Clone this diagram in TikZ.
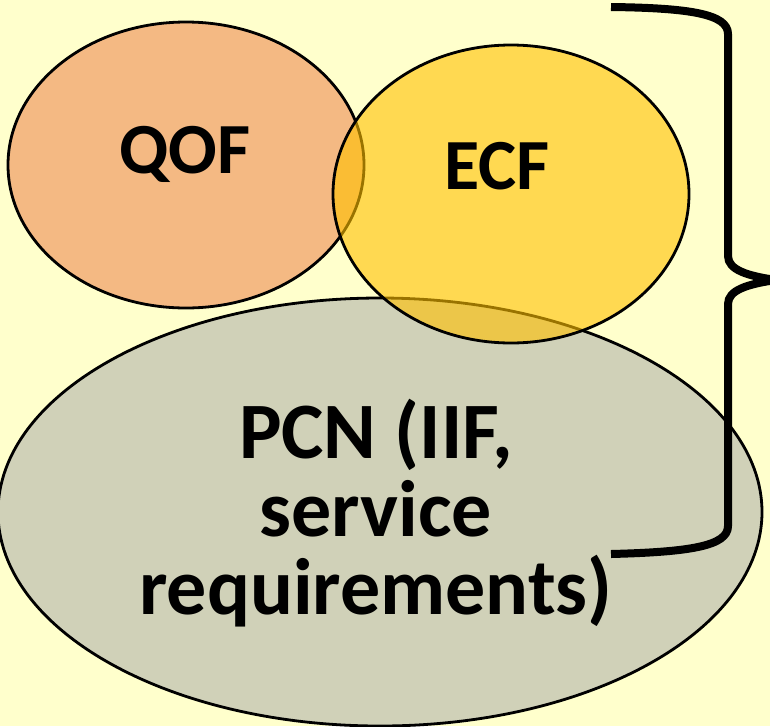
\documentclass[tikz,border=0pt]{standalone}
\usepackage{fontspec}
\setmainfont{Carlito}
\begin{document}
\begin{tikzpicture}[x=1pt,y=-1pt,
  bubble/.style={draw=black,line width=2.8pt},
  lbl/.style={font=\bfseries\fontsize{72}{80}\selectfont,inner sep=0pt},
  biglbl/.style={font=\bfseries\fontsize{80}{78}\selectfont,inner sep=0pt,align=center},
  bracestroke/.style={line width=8pt,line cap=butt,line join=round}]
  \definecolor{paper}{RGB}{255,255,204}
  \definecolor{qofcol}{RGB}{244,185,131}
  \definecolor{ecfcol}{RGB}{255,192,0}
  \definecolor{pcncol}{RGB}{208,209,184}
  \useasboundingbox (0,0) rectangle (770,726);
  \clip (0,0) rectangle (770,726);
  \fill[paper] (0,0) rectangle (770,726);

  % three overlapping sets
  \draw[bubble,fill=qofcol] (186,165) ellipse [x radius=178,y radius=143];
  \draw[bubble,fill=pcncol] (380,512) ellipse [x radius=382,y radius=214];
  \draw[bubble,fill=ecfcol,fill opacity=0.6] (511,194) ellipse [x radius=178,y radius=149];

  % labels
  \node[lbl,anchor=base] (qof) at (185,173) {QOF};
  \node[lbl,anchor=base] (ecf) at (497,189) {ECF};
  \node[biglbl] (pcn) at (376,513) {PCN (IIF,\\service\\requirements)};

  % curly brace grouping the three sets
  \coordinate (btop) at (611,7);
  \coordinate (btip) at (776,280);
  \coordinate (bbot) at (611,554);
  \draw[bracestroke] (btop) .. controls (690,8) and (728,14) .. (728,34)
    -- (728,256) .. controls (728,270) and (748,276) .. (btip)
    .. controls (748,284) and (728,290) .. (728,304)
    -- (728,526) .. controls (728,546) and (690,552) .. (bbot);
\end{tikzpicture}
\end{document}
